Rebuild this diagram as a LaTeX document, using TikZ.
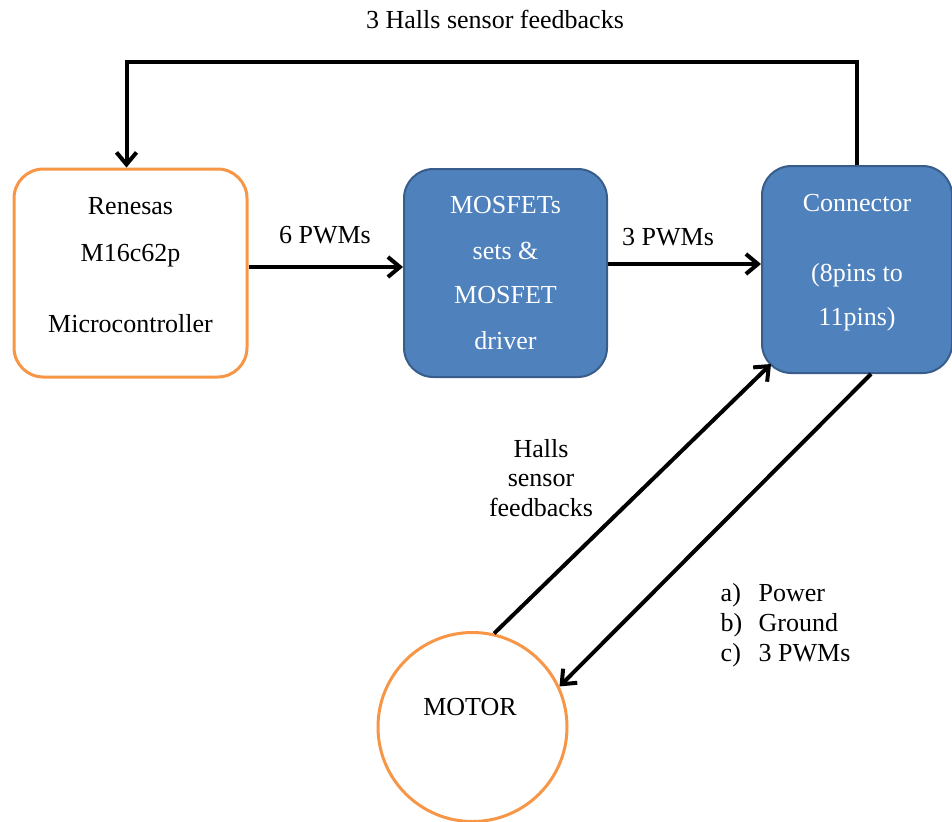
\documentclass[tikz,border=0pt]{standalone}
\usepackage{fontspec}
\setmainfont{Liberation Serif}
\usetikzlibrary{arrows.meta}
\definecolor{boxorange}{RGB}{247,150,70}
\definecolor{boxblue}{RGB}{79,129,189}
\definecolor{boxedge}{RGB}{56,93,138}
\begin{document}
\begin{tikzpicture}[x=0.75pt, y=-0.75pt,
    every node/.style={font=\fontsize{19.5}{33}\selectfont},
    every label/.style={font=\fontsize{19.5}{33}\selectfont, align=center, inner sep=0pt},
    whitebox/.style={draw=boxorange, line width=2.25pt, fill=white, rounded corners=22pt, align=center, inner sep=0pt},
    bluebox/.style={draw=boxedge, line width=1.5pt, fill=boxblue, text=white, rounded corners=22pt, align=center, inner sep=0pt},
    wire/.style={line width=3pt, -{Straight Barb[length=9pt, width=15pt]}}]
    \useasboundingbox (0,0) rectangle (952,821);

    % BLOCS
    \node[whitebox, minimum width=174.75pt, minimum height=156pt,
        label={[yshift=6pt]center:Renesas\\[2.25pt]M16c62p\\[20pt]Microcontroller}] (mcu) at (130.5,273) {};
    \node[bluebox, minimum width=152.25pt, minimum height=156pt] (drv) at (505.5,273) {MOSFETs\\[1.5pt]sets \&\\MOSFET\\[1.5pt]driver};
    \node[bluebox, minimum width=142.5pt, minimum height=155.25pt,
        label={[yshift=5.25pt, text=white]center:Connector\\[20pt](8pins to\\11pins)}] (conn) at (857,269.5) {};
    \node[circle, draw=boxorange, line width=2.25pt, minimum size=141.75pt, inner sep=0pt] (motor) at (472.5,727) {};
    \node (motorlabel) at (470,707) {MOTOR};

    % RETROALIMENTACIO
    \node (fbtitle) at (495,19) {3 Halls sensor feedbacks};
    \draw[wire] (conn.north) -- ++(0,-103) -| ([xshift=-3pt]mcu.north);

    % PWM
    \draw[wire] ([yshift=4.5pt]mcu.east) -- ([yshift=4.5pt]mcu.east -| drv.west);
    \node (pwm6) at (325,235) {6 PWMs};
    \draw[wire] ([yshift=6.75pt]drv.east) -- ([yshift=6.75pt]drv.east -| conn.west);
    \node (pwm3) at (668,237) {3 PWMs};

    % MOTOR
    \draw[wire] (motor.77) -- ([shift={(10,-10)}]conn.south west);
    \draw[wire] ([xshift=10.5pt]conn.south) -- (motor.25);
    \node[align=center, font=\fontsize{19.5}{22}\selectfont] (hallslabel) at (541,478) {Halls\\sensor\\feedbacks};
    \node[anchor=west, align=left, font=\fontsize{19.5}{22.5}\selectfont] (siglist) at (716,625)
        {\makebox[28.5pt][l]{a)}Power\\\makebox[28.5pt][l]{b)}Ground\\\makebox[28.5pt][l]{c)}3 PWMs};
\end{tikzpicture}
\end{document}
